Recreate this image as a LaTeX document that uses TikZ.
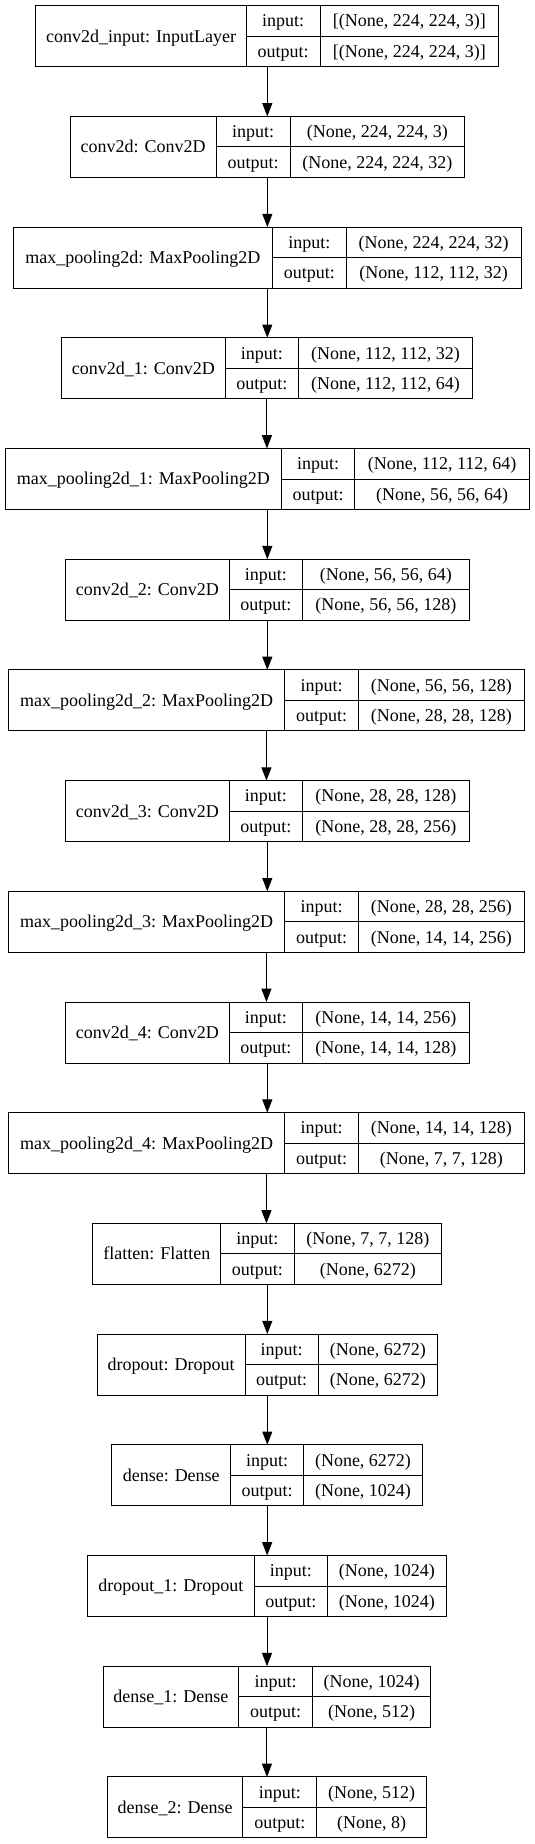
\documentclass[tikz,border=0pt]{standalone}
\usepackage{fontspec}
\setmainfont{Liberation Serif}
\usetikzlibrary{arrows.meta}
\tikzset{
  frame/.style={draw=black, line width=1pt, rectangle, inner sep=0pt, outer sep=0pt, minimum height=61pt},
  txt/.style={inner sep=0pt, font=\fontsize{18}{20}\selectfont, text height=11.9pt, text depth=0pt},
  divline/.style={draw=black, line width=1pt},
  arr/.style={draw=black, line width=1pt, -{Triangle[length=13.3pt,width=10pt]}},
}
% #1 id, #2 index, #3 left, #4 divider1, #5 divider2, #6 right, #7 label, #8 input, #9 output
\newcommand\kerasbox[9]{%
  \pgfmathsetmacro\ytop{-(5.7+110.7*#2)}%
  \node[frame, minimum width={#6-#3}] (#1) at ({(#3+#6)/2},{\ytop-30.5}) {};
  \draw[divline] (#4,\ytop) -- (#4,\ytop-61);
  \draw[divline] (#5,\ytop) -- (#5,\ytop-61);
  \draw[divline] (#4,\ytop-30.5) -- (#6,\ytop-30.5);
  \node[txt] (#1-name) at ({(#3+#4)/2},{\ytop-30.5}) {#7};
  \node[txt] (#1-in) at ({(#4+#5)/2},{\ytop-15.25}) {input:};
  \node[txt] (#1-out) at ({(#4+#5)/2},{\ytop-45.75}) {output:};
  \node[txt] (#1-inv) at ({(#5+#6)/2},{\ytop-15.25}) {#8};
  \node[txt] (#1-outv) at ({(#5+#6)/2},{\ytop-45.75}) {#9};
}
\begin{document}
\begin{tikzpicture}[x=1pt,y=1pt]
\useasboundingbox (0,0) rectangle (535,-1844);
\kerasbox{b0}{0}{35.8}{246.3}{320}{498.8}{conv2d\_input: InputLayer}{[(None, 224, 224, 3)]}{[(None, 224, 224, 3)]}
\kerasbox{b1}{1}{70}{216.3}{290}{464.7}{conv2d: Conv2D}{(None, 224, 224, 3)}{(None, 224, 224, 32)}
\kerasbox{b2}{2}{13.6}{272.3}{346.3}{521}{max\_pooling2d: MaxPooling2D}{(None, 224, 224, 32)}{(None, 112, 112, 32)}
\kerasbox{b3}{3}{61.4}{225.2}{298.5}{472.5}{conv2d\_1: Conv2D}{(None, 112, 112, 32)}{(None, 112, 112, 64)}
\kerasbox{b4}{4}{5.1}{281.5}{354.8}{529.5}{max\_pooling2d\_1: MaxPooling2D}{(None, 112, 112, 64)}{(None, 56, 56, 64)}
\kerasbox{b5}{5}{65.5}{229.3}{302.6}{469.1}{conv2d\_2: Conv2D}{(None, 56, 56, 64)}{(None, 56, 56, 128)}
\kerasbox{b6}{6}{8.5}{284.9}{358.2}{524.4}{max\_pooling2d\_2: MaxPooling2D}{(None, 56, 56, 128)}{(None, 28, 28, 128)}
\kerasbox{b7}{7}{65.5}{229.3}{302.6}{469.1}{conv2d\_3: Conv2D}{(None, 28, 28, 128)}{(None, 28, 28, 256)}
\kerasbox{b8}{8}{8.5}{284.9}{358.2}{524.4}{max\_pooling2d\_3: MaxPooling2D}{(None, 28, 28, 256)}{(None, 14, 14, 256)}
\kerasbox{b9}{9}{65.5}{229.3}{302.6}{469.1}{conv2d\_4: Conv2D}{(None, 14, 14, 256)}{(None, 14, 14, 128)}
\kerasbox{b10}{10}{8.5}{284.9}{358.2}{524.4}{max\_pooling2d\_4: MaxPooling2D}{(None, 14, 14, 128)}{(None, 7, 7, 128)}
\kerasbox{b11}{11}{92.8}{220.7}{294.1}{441.8}{flatten: Flatten}{(None, 7, 7, 128)}{(None, 6272)}
\kerasbox{b12}{12}{97.2}{245}{318.3}{437.4}{dropout: Dropout}{(None, 6272)}{(None, 6272)}
\kerasbox{b13}{13}{111.9}{230.6}{303.6}{422.4}{dense: Dense}{(None, 6272)}{(None, 1024)}
\kerasbox{b14}{14}{87.7}{254.2}{327.5}{446.3}{dropout\_1: Dropout}{(None, 1024)}{(None, 1024)}
\kerasbox{b15}{15}{103}{238.8}{312.2}{430.9}{dense\_1: Dense}{(None, 1024)}{(None, 512)}
\kerasbox{b16}{16}{107.5}{242.9}{316.6}{426.5}{dense\_2: Dense}{(None, 512)}{(None, 8)}
\foreach \a/\b in {b0/b1,b1/b2,b2/b3,b3/b4,b4/b5,b5/b6,b6/b7,b7/b8,b8/b9,b9/b10,b10/b11,b11/b12,b12/b13,b13/b14,b14/b15,b15/b16}
  \draw[arr] (\a.south) -- (\a.south |- \b.north);
\end{tikzpicture}
\end{document}
